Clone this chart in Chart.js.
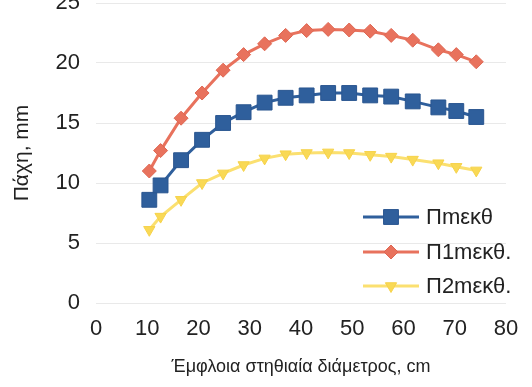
<!DOCTYPE html>
<html>
<head>
<meta charset="utf-8">
<script src="https://cdn.jsdelivr.net/npm/chart.js@4"></script>
<style>
  html, body { margin: 0; padding: 0; background: #fff; }
  #wrap { width: 532px; height: 387px; }
</style>
</head>
<body>
<div id="wrap"><canvas id="chart" width="532" height="387"></canvas></div>
<script>
// ============================================================
// DATA
// ============================================================

const diameters = [10.4, 12.6, 16.6, 20.7, 24.8, 28.8, 32.9, 37.0, 41.1, 45.3, 49.4, 53.5, 57.6, 61.8, 66.8, 70.3, 74.2];

const pMean = [8.6, 9.8, 11.9, 13.6, 15.0, 15.9, 16.7, 17.1, 17.3, 17.5, 17.5, 17.3, 17.2, 16.8, 16.3, 16.0, 15.5];
const p1Mean = [11.0, 12.7, 15.4, 17.5, 19.4, 20.7, 21.6, 22.3, 22.7, 22.8, 22.75, 22.65, 22.3, 21.9, 21.1, 20.7, 20.1];
const p2Mean = [6.1, 7.2, 8.6, 10.0, 10.8, 11.5, 12.05, 12.4, 12.5, 12.55, 12.5, 12.35, 12.2, 11.95, 11.65, 11.35, 11.05];

const seriesNames = ["Πmεκθ", "Π1mεκθ.", "Π2mεκθ."];
const xTicks = [0, 10, 20, 30, 40, 50, 60, 70, 80];
const yTicks = [0, 5, 10, 15, 20, 25];

const xTitle = "Έμφλοια στηθιαία διάμετρος, cm";
const yTitle = "Πάχη, mm";

const FONT = "'Liberation Sans', Arial, sans-serif";


// ============================================================
// HELPERS
// ============================================================

function toPoints(values) {
  return values.map((v, i) => ({ x: diameters[i], y: v }));
}

// legend drawn inside the plot, bottom right (line + marker + text)
const insideLegend = {
  id: "insideLegend",
  afterDraw(chart) {
    const ctx = chart.ctx;
    const rows = [217, 252, 286];
    ctx.save();
    chart.data.datasets.forEach((ds, i) => {
      const y = rows[i];
      ctx.strokeStyle = ds.borderColor;
      ctx.lineWidth = ds.borderWidth;
      ctx.beginPath();
      ctx.moveTo(363, y);
      ctx.lineTo(419, y);
      ctx.stroke();
      ctx.fillStyle = ds.pointBackgroundColor;
      ctx.strokeStyle = ds.pointBorderColor;
      ctx.lineWidth = 1;
      Chart.helpers.drawPoint(ctx, {
        pointStyle: ds.pointStyle,
        radius: ds.pointRadius,
        rotation: ds.pointRotation || 0,
        borderWidth: 1
      }, 391, y);
      ctx.fillStyle = "#222";
      ctx.font = "22px " + FONT;
      ctx.textBaseline = "middle";
      ctx.textAlign = "left";
      ctx.fillText(ds.label, 426, y + 1);
    });
    ctx.restore();
  }
};

// ============================================================
// CHART
// ============================================================

const ctx = document.getElementById("chart").getContext("2d");

new Chart(ctx, {
  type: "scatter",
  data: {
    datasets: [
      {
        label: seriesNames[0],
        data: toPoints(pMean),
        showLine: true,
        borderColor: "#2f5f9c",
        borderWidth: 3,
        pointStyle: "rect",
        pointRadius: 10.5,
        pointBackgroundColor: "#2f5f9c",
        pointBorderColor: "#2a5690",
        pointBorderWidth: 1
      },
      {
        label: seriesNames[1],
        data: toPoints(p1Mean),
        showLine: true,
        borderColor: "#e8725d",
        borderWidth: 3,
        pointStyle: "rectRot",
        pointRadius: 7,
        pointBackgroundColor: "#e8725d",
        pointBorderColor: "#df6652",
        pointBorderWidth: 1
      },
      {
        label: seriesNames[2],
        data: toPoints(p2Mean),
        showLine: true,
        borderColor: "#fbe070",
        borderWidth: 3,
        pointStyle: "triangle",
        pointRotation: 180,
        pointRadius: 6.5,
        pointBackgroundColor: "#f9d955",
        pointBorderColor: "#f6d24a",
        pointBorderWidth: 1
      }
    ]
  },
  options: {
    responsive: false,
    animation: false,
    events: [],
    layout: { autoPadding: false, padding: { top: 3, right: 26, left: 0, bottom: 0 } },
    plugins: {
      legend: { display: false },
      tooltip: { enabled: false }
    },
    scales: {
      x: {
        type: "linear",
        min: 0,
        max: 80,
        afterBuildTicks: (scale) => { scale.ticks = xTicks.map(v => ({ value: v })); },
        afterFit: (scale) => {
          scale.height = 84;
          scale.paddingLeft = 0;
          scale.paddingRight = 0;
        },
        grid: { display: false, drawTicks: false },
        border: { display: false },
        ticks: {
          color: "#222",
          font: { family: FONT, size: 22 },
          padding: 13,
          maxRotation: 0
        },
        title: {
          display: true,
          text: xTitle,
          color: "#222",
          font: { family: FONT, size: 18 },
          padding: { top: 0, bottom: 9 }
        }
      },
      y: {
        min: 0,
        max: 25,
        afterBuildTicks: (scale) => { scale.ticks = yTicks.map(v => ({ value: v })); },
        afterFit: (scale) => {
          scale.width = 96;
          scale.paddingTop = 0;
          scale.paddingBottom = 0;
        },
        grid: { color: "#e9e9e9", lineWidth: 1, drawTicks: false },
        border: { display: false },
        ticks: {
          color: "#222",
          font: { family: FONT, size: 22, lineHeight: 0.25 },
          padding: 16
        },
        title: {
          display: true,
          text: yTitle,
          color: "#222",
          font: { family: FONT, size: 21 },
          padding: { top: 10, bottom: 0 }
        }
      }
    }
  },
  plugins: [insideLegend]
});
</script>
</body>
</html>
